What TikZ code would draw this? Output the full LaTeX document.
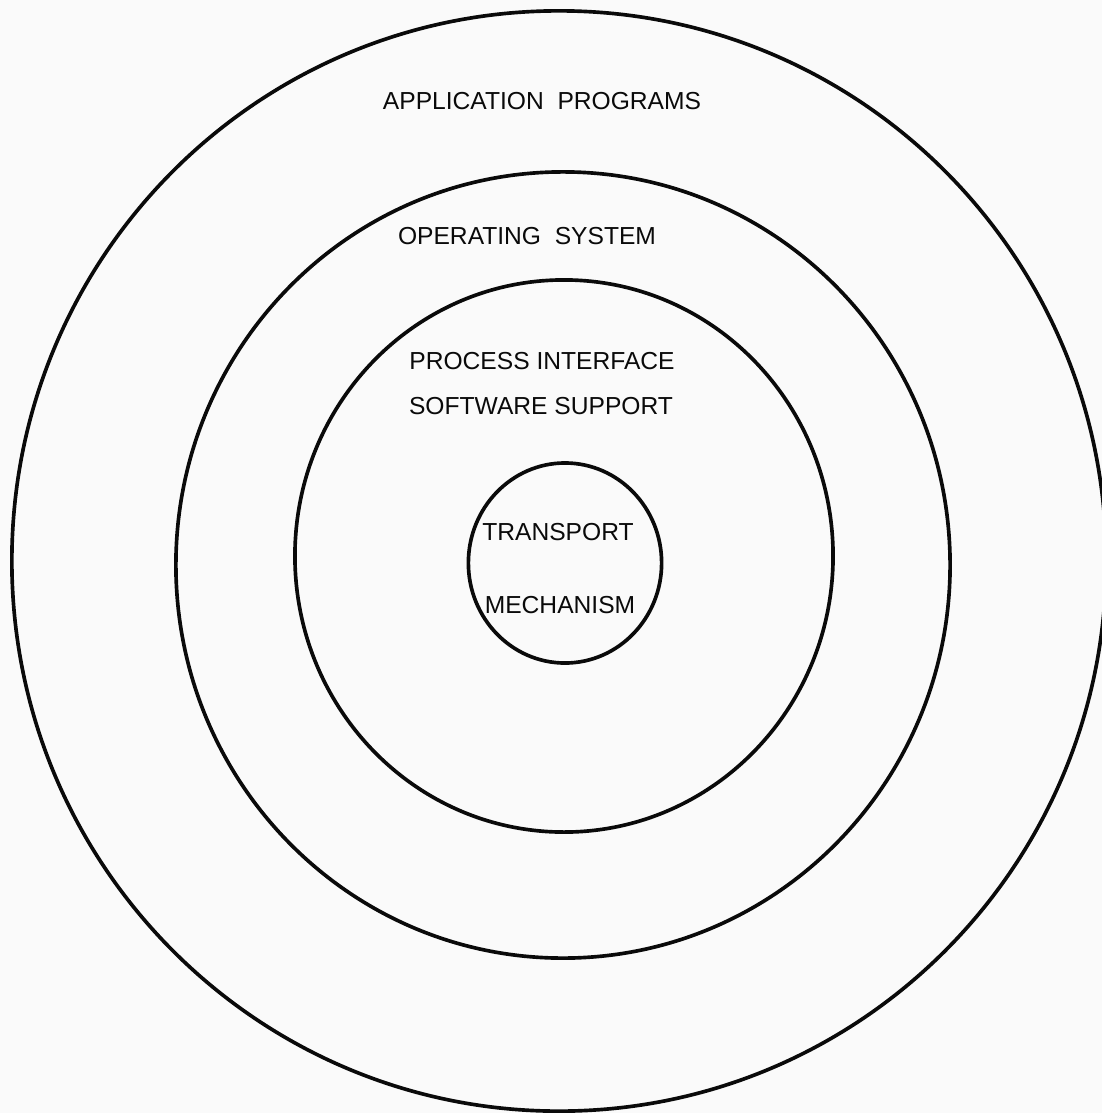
\documentclass[tikz,border=0pt]{standalone}
\usepackage{fontspec}
\usepackage{xcolor}
\usepackage{tikz}
\usetikzlibrary{shapes.geometric, positioning, backgrounds}
\setmainfont{Liberation Sans}
\definecolor{paper}{RGB}{250, 250, 250}
\definecolor{ink}{RGB}{10, 10, 10}
\tikzset{
    ring/.style={ellipse, draw=ink, line width=2.6pt, inner sep=0pt},
    layertext/.style={font=\fontsize{17.5}{20}\selectfont, text=ink, inner sep=1pt, anchor=center}
}

\begin{document}
\begin{tikzpicture}[x=0.025cm, y=-0.025cm]

    \useasboundingbox (0,0) rectangle (1102,1113);
    \fill [paper] (0,0) rectangle (1102,1113);

    % the four layers, outermost first
    \node (appring)  [ring, minimum width=27.35cm, minimum height=27.5cm]  at (559,561) {};
    \node (osring)   [ring, minimum width=19.35cm, minimum height=19.65cm] at (563,565) {};
    \node (ifring)   [ring, minimum width=13.45cm, minimum height=13.8cm]  at (564,556) {};
    \node (corering) [ring, minimum width=4.83cm,  minimum height=5.0cm]   at (565,563) {};

    \node (applabel) [layertext] at (542,101) {APPLICATION\ \ PROGRAMS};
    \node (oslabel)  [layertext] at (527,236) {OPERATING\ \ SYSTEM};
    \node (iflabel)  [layertext] at (542,361) {PROCESS INTERFACE};
    \node (swlabel)  [layertext] at (541,406) {SOFTWARE SUPPORT};
    \node (tplabel)  [layertext] at (558,532) {TRANSPORT};
    \node (mclabel)  [layertext] at (560,605) {MECHANISM};

\end{tikzpicture}
\end{document}
